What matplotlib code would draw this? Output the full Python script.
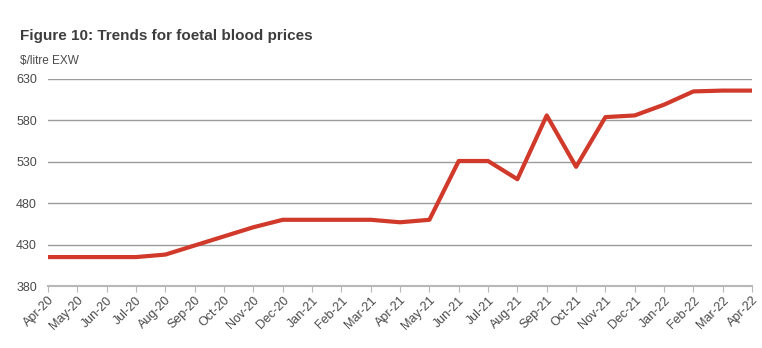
import matplotlib.pyplot as plt

plt.rcParams["font.family"] = ["Liberation Sans", "DejaVu Sans"]

months = ["Apr-20", "May-20", "Jun-20", "Jul-20", "Aug-20", "Sep-20", "Oct-20",
          "Nov-20", "Dec-20", "Jan-21", "Feb-21", "Mar-21", "Apr-21", "May-21",
          "Jun-21", "Jul-21", "Aug-21", "Sep-21", "Oct-21", "Nov-21", "Dec-21",
          "Jan-22", "Feb-22", "Mar-22", "Apr-22"]
prices = [415, 415, 415, 415, 418, 429, 440, 451, 460, 460, 460, 460, 457, 460,
          531, 531, 509, 586, 524, 584, 586, 599, 615, 616, 616]
yticks = [380, 430, 480, 530, 580, 630]

fig = plt.figure(figsize=(7.62, 3.48), dpi=100)
ax = fig.add_axes([0.063, 0.178, 0.924, 0.595])

x = list(range(len(months)))
ax.plot(x, prices, color="#d1392b", linewidth=3.0, solid_joinstyle="round", zorder=3)

ax.set_xlim(0, len(months) - 1)
ax.set_ylim(380, 630)
ax.set_yticks(yticks)
ax.set_xticks(x)
ax.set_xticklabels(months, rotation=45, ha="right", rotation_mode="anchor")

ax.grid(axis="y", color="#9b9b9b", linewidth=1.0)
ax.set_axisbelow(True)
for side in ["top", "right", "left"]:
    ax.spines[side].set_visible(False)
ax.spines["bottom"].set_color("#b8b8b8")
ax.spines["bottom"].set_linewidth(1.5)
ax.tick_params(axis="y", length=0, labelsize=9, labelcolor="#4a4a4a", pad=8)
ax.tick_params(axis="x", length=4, color="#b8b8b8", labelsize=9,
               labelcolor="#4a4a4a", pad=2)

fig.text(0.026, 0.885, "Figure 10: Trends for foetal blood prices", fontsize=11,
         fontweight="bold", color="#3d3d3d")
fig.text(0.026, 0.815, "$/litre EXW", fontsize=8.5, color="#4a4a4a")

fig.savefig("out.png", dpi=100)
